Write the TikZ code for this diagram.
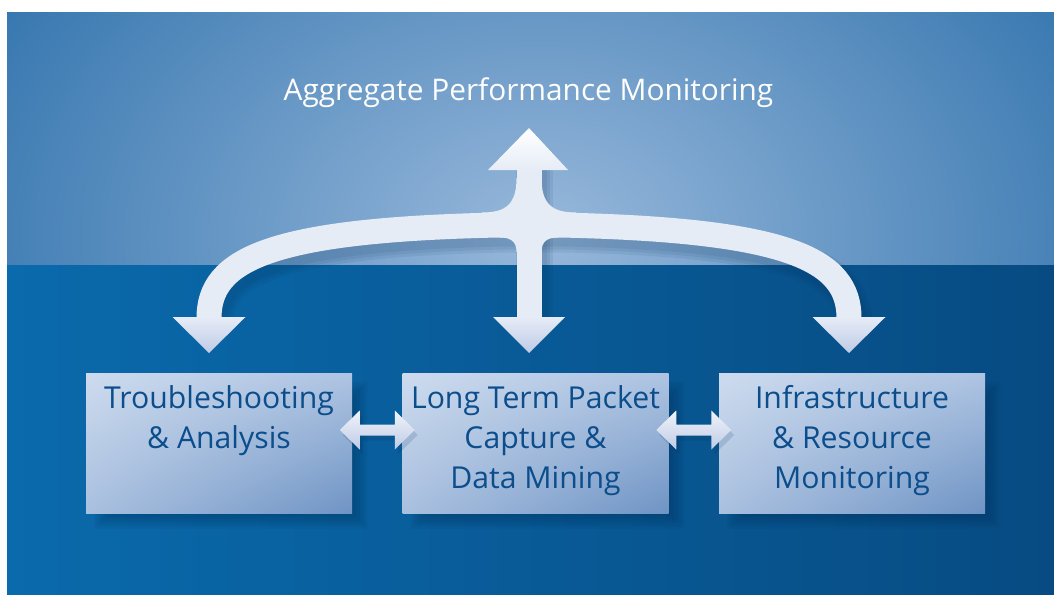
\documentclass[tikz,border=0pt]{standalone}
\usepackage{fontspec}
\setmainfont{Open Sans}
\usetikzlibrary{calc,shadings}
\definecolor{lowL}{HTML}{0A6AAC}
\definecolor{lowR}{HTML}{074B82}
\definecolor{upOuter}{HTML}{1460A0}
\definecolor{upInner}{HTML}{98B8DB}
\definecolor{boxUL}{HTML}{CDDBEE}
\definecolor{boxUR}{HTML}{AEC4E2}
\definecolor{boxLL}{HTML}{A9C0DF}
\definecolor{boxLR}{HTML}{6F94C4}
\definecolor{boxtxt}{HTML}{0C4D8C}
\definecolor{arrowc}{HTML}{E6ECF6}
\definecolor{arrowdark}{HTML}{BFCBE6}
\definecolor{shadowc}{HTML}{04305A}
\tikzset{
  bandline/.style={line width=25pt, line cap=butt, draw=arrowc},
  bandshadow/.style={line cap=butt, draw=shadowc, opacity=0.08},
  boxnode/.style={minimum width=266pt, minimum height=140pt, inner sep=0pt,
    upper left=boxUL, upper right=boxUR, lower left=boxLL, lower right=boxLR},
  boxtext/.style={text=boxtxt, align=center, inner sep=0pt,
    font=\fontsize{30.2}{40}\selectfont},
  dblarrow/.style={top color=arrowc!60!white, bottom color=arrowdark},
  headdown/.style={top color=arrowc, bottom color=arrowdark},
}
\begin{document}
\begin{tikzpicture}[x=1pt,y=-1pt]
\useasboundingbox (0,0) rectangle (1054,594);
\fill[white] (0,0) rectangle (1054,594);
% lower band
\shade[left color=lowL, right color=lowR] (7,264) rectangle (1054,594);
% upper band
\begin{scope}
  \clip (7,13) rectangle (1054,264);
  \fill[upOuter] (7,13) rectangle (1054,264);
  \shade[inner color=upInner, outer color=upOuter] (540,235) ellipse (850 and 600);
\end{scope}

% title
\node[text=white, inner sep=0pt, anchor=base, font=\fontsize{29.8}{34}\selectfont]
  (title) at (528.5,100) {Aggregate Performance Monitoring};

% box positions
\coordinate (c1) at (219,443);
\coordinate (c2) at (535.5,443);
\coordinate (c3) at (852,443);

% box shadows
\foreach \c in {c1,c2,c3}{
  \foreach \r in {0,2,...,14}{
    \fill[shadowc, opacity=0.06]
      ($(\c)+(-133+8-\r+14,-70+8-\r+14)$) rectangle ($(\c)+(133+8+\r-6,70+8+\r-6)$);
  }
}

% arrow shadows
\begin{scope}[shift={(5,9)}]
  \foreach \w in {37,31,25}{
    \draw[bandshadow, line width=\w pt] (209,317) .. controls (209,260) and (268,230) .. (498,225)
      -- (560,225) .. controls (790,230) and (849,260) .. (849,317);
    \draw[bandshadow, line width=\w pt] (529,150) -- (529,318);
  }
\end{scope}

% big arrow
\draw[bandline] (209,318) .. controls (209,260) and (268,230) .. (498,225)
  -- (560,225) .. controls (790,230) and (849,260) .. (849,318);
\draw[bandline] (529,168) -- (529,318);
% fillets
\fill[arrowc] (516.5,178) .. controls (516.5,204) and (506,212.5) .. (482,212.5)
  -- (482,216) -- (520,216) -- (520,178) -- cycle;
\fill[arrowc] (541.5,178) .. controls (541.5,204) and (552,212.5) .. (576,212.5)
  -- (576,216) -- (538,216) -- (538,178) -- cycle;
\fill[arrowc] (500,237.5) .. controls (510,237.5) and (516.5,241) .. (516.5,252)
  -- (520,252) -- (520,234) -- (500,234) -- cycle;
\fill[arrowc] (558,237.5) .. controls (548,237.5) and (541.5,241) .. (541.5,252)
  -- (538,252) -- (538,234) -- (558,234) -- cycle;
% heads
\shade[top color=white, bottom color=arrowc] (488,170) -- (529,128) -- (568,170) -- cycle;
\shade[headdown] (493,317) -- (565,317) -- (529,353) -- cycle;
\shade[headdown] (172.5,317) -- (245.5,317) -- (209,353) -- cycle;
\shade[headdown] (812.5,317) -- (885.5,317) -- (849,353) -- cycle;

% boxes
\node[boxnode] (b1) at (c1) {};
\node[boxnode] (b2) at (c2) {};
\node[boxnode] (b3) at (c3) {};

\node[boxtext, anchor=base] (t1) at (219,448) {Troubleshooting\\\& Analysis};
\node[boxtext, anchor=base] (t2) at (535.5,488) {Long Term Packet\\Capture \&\\Data Mining};
\node[boxtext, anchor=base] (t3) at (852,488) {Infrastructure\\\& Resource\\Monitoring};

% double arrows
\coordinate (m12) at ($(b1.east)!0.5!(b2.west)+(0,-13)$);
\coordinate (m23) at ($(b2.east)!0.5!(b3.west)+(0,-13)$);
\foreach \m in {m12,m23}{
  \fill[shadowc, opacity=0.15, shift={($(\m)+(3,5)$)}]
    (-37.5,0) -- (-17.5,-19.5) -- (-17.5,-5.5) -- (17.5,-5.5) -- (17.5,-19.5) -- (37.5,0)
    -- (17.5,19.5) -- (17.5,5.5) -- (-17.5,5.5) -- (-17.5,19.5) -- cycle;
  \shade[dblarrow, shift={(\m)}]
    (-37.5,0) -- (-17.5,-19.5) -- (-17.5,-5.5) -- (17.5,-5.5) -- (17.5,-19.5) -- (37.5,0)
    -- (17.5,19.5) -- (17.5,5.5) -- (-17.5,5.5) -- (-17.5,19.5) -- cycle;
}
\end{tikzpicture}
\end{document}
